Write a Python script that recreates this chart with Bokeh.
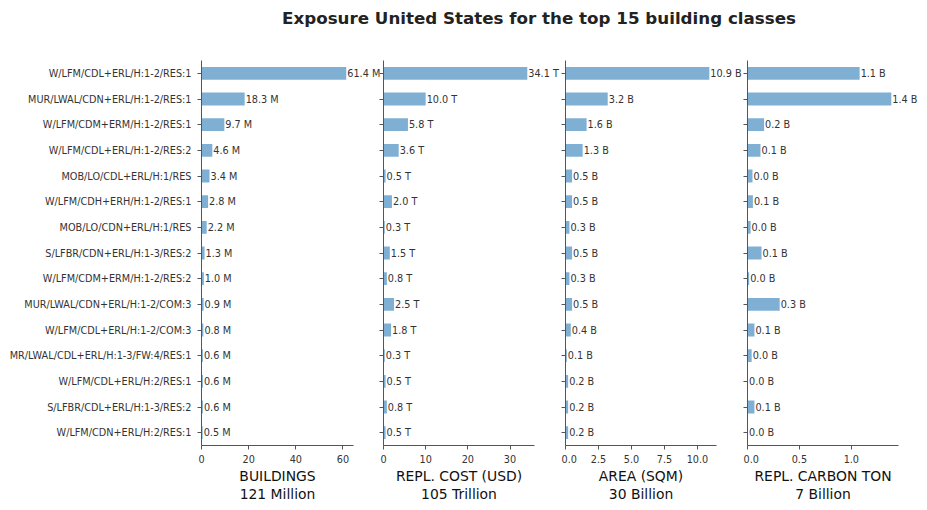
from bokeh.plotting import figure
from bokeh.models import (ColumnDataSource, FactorRange, Range1d, FixedTicker,
                          PrintfTickFormatter, LabelSet, CustomLabelingPolicy, Title)
from bokeh.core.properties import value
from bokeh.layouts import row, column
from bokeh.embed import file_html
from bokeh.resources import INLINE

TITLE = "Exposure United States for the top 15 building classes"

classes = [
    "W/LFM/CDL+ERL/H:1-2/RES:1",
    "MUR/LWAL/CDN+ERL/H:1-2/RES:1",
    "W/LFM/CDM+ERM/H:1-2/RES:1",
    "W/LFM/CDL+ERL/H:1-2/RES:2",
    "MOB/LO/CDL+ERL/H:1/RES",
    "W/LFM/CDH+ERH/H:1-2/RES:1",
    "MOB/LO/CDN+ERL/H:1/RES",
    "S/LFBR/CDN+ERL/H:1-3/RES:2",
    "W/LFM/CDM+ERM/H:1-2/RES:2",
    "MUR/LWAL/CDN+ERL/H:1-2/COM:3",
    "W/LFM/CDL+ERL/H:1-2/COM:3",
    "MR/LWAL/CDL+ERL/H:1-3/FW:4/RES:1",
    "W/LFM/CDL+ERL/H:2/RES:1",
    "S/LFBR/CDL+ERL/H:1-3/RES:2",
    "W/LFM/CDN+ERL/H:2/RES:1",
]

buildings_m = [61.4, 18.3, 9.7, 4.6, 3.4, 2.8, 2.2, 1.3, 1.0, 0.9, 0.8, 0.6, 0.6, 0.6, 0.5]
cost_t = [34.1, 10.0, 5.8, 3.6, 0.5, 2.0, 0.3, 1.5, 0.8, 2.5, 1.8, 0.3, 0.5, 0.8, 0.5]
area_b = [10.9, 3.2, 1.6, 1.3, 0.5, 0.5, 0.3, 0.5, 0.3, 0.5, 0.4, 0.1, 0.2, 0.2, 0.2]
carbon_b = [1.08, 1.385, 0.16, 0.125, 0.048, 0.052, 0.03, 0.135, 0.016, 0.31, 0.067, 0.04, 0.005, 0.067, 0.005]

units = ["M", "T", "B", "B"]
metric_names = ["BUILDINGS", "REPL. COST (USD)", "AREA (SQM)", "REPL. CARBON TON"]
metric_totals = ["121 Million", "105 Trillion", "30 Billion", "7 Billion"]
ticks = [[0, 20, 40, 60], [0, 10, 20, 30], [0, 2.5, 5.0, 7.5, 10.0], [0, 0.5, 1.0]]
tick_formats = ["%d", "%d", "%.1f", "%.1f"]
series = [buildings_m, cost_t, area_b, carbon_b]

BAR = "#7fb0d4"
AX = "#555555"
TXT = "#333333"
FONT = "DejaVu Sans"

OV = 4                           # neighbouring panels overlap (transparent)
axis_px = [152, 151, 151, 151]   # drawn length of each x axis
extra_px = [30, 31, 31, 29]      # room to the right of the axis for value labels
H = 424
H_CAP = 45
CAP_UP = 4

hide_labels = CustomLabelingPolicy(code="""
for (const i of Array.from(indices)) { indices.unset(i) }
return indices
""")

figs = []
caps = []
for i, vals in enumerate(series):
    bl = 201 if i == 0 else OV
    xmax = max(vals) * 1.05
    frame = axis_px[i] + extra_px[i]
    src = ColumnDataSource(dict(
        cls=classes, v=vals,
        lab=["%.1f %s" % (v, units[i]) for v in vals],
    ))
    p = figure(width=bl + frame, height=H,
               y_range=FactorRange(factors=list(reversed(classes)), range_padding=0),
               x_range=Range1d(0, xmax * frame / axis_px[i]),
               output_backend="svg", toolbar_location=None,
               min_border_left=bl, min_border_right=0,
               min_border_top=15, min_border_bottom=24)
    p.hbar(y="cls", right="v", left=0, height=0.5, source=src, color=BAR, line_color=None)
    p.add_layout(LabelSet(x="v", y="cls", text="lab", source=src, x_offset=1,
                          text_baseline="middle", text_align="left",
                          text_font_size="9.7px", text_color=TXT, text_font=value(FONT)))
    p.outline_line_color = None
    p.border_fill_color = None
    p.background_fill_color = None
    p.grid.visible = False
    p.xaxis.bounds = (0, xmax)
    p.xaxis.ticker = FixedTicker(ticks=ticks[i])
    p.xaxis.formatter = PrintfTickFormatter(format=tick_formats[i])
    p.xaxis.major_label_text_font_size = "9.7px"
    p.xaxis.major_label_text_font = FONT
    p.xaxis.major_label_text_color = TXT
    p.xaxis.minor_tick_line_color = None
    for ax in (p.xaxis, p.yaxis):
        ax.axis_line_color = AX
        ax.major_tick_line_color = AX
        ax.major_tick_out = 4
        ax.major_tick_in = 0
    p.yaxis.major_label_text_font_size = "9.7px"
    p.yaxis.major_label_text_font = FONT
    p.yaxis.major_label_text_color = TXT
    p.yaxis.major_label_standoff = 6
    if i > 0:
        p.yaxis.major_label_policy = hide_labels
        p.yaxis.major_label_overrides = {c: "" for c in classes}
        p.yaxis.major_label_standoff = 0
        p.yaxis.major_label_text_font_size = "0px"
        p.margin = (0, 0, 0, -OV)
    figs.append(p)

    # caption figure under each panel, its frame aligned with the panel's x axis
    cl = 201 if i == 0 else 0
    c = figure(width=cl + axis_px[i] + extra_px[i], height=H_CAP,
               output_backend="svg", toolbar_location=None,
               x_axis_location=None, y_axis_location=None,
               min_border_left=cl, min_border_right=extra_px[i],
               min_border_top=0, min_border_bottom=0,
               x_range=Range1d(0, 1), y_range=Range1d(0, 1))
    c.outline_line_color = None
    c.border_fill_color = None
    c.background_fill_color = None
    c.grid.visible = False
    c.title = None
    for txt in (metric_totals[i], metric_names[i]):
        c.add_layout(Title(text=txt, align="center", text_font_size="13.9px",
                           text_font=FONT, text_font_style="normal",
                           text_line_height=1.0,
                           text_color="#111111", standoff=0), "above")
    c.margin = (-CAP_UP, 0, 0, 0)
    caps.append(c)

tf = figure(width=927, height=45, output_backend="svg", toolbar_location=None,
            min_border_left=150, min_border_right=0, min_border_top=0, min_border_bottom=0,
            x_range=Range1d(0, 1), y_range=Range1d(0, 1))
tf.title.text = TITLE
tf.title.align = "center"
tf.title.text_font_size = "16.7px"
tf.title.text_font = FONT
tf.title.text_font_style = "bold"
tf.title.text_color = "#222222"
tf.title.offset = 8
tf.axis.visible = False
tf.grid.visible = False
tf.outline_line_color = None

layout = column(tf, row(*figs), row(*caps))
open("out.html", "w").write(file_html(layout, INLINE))
